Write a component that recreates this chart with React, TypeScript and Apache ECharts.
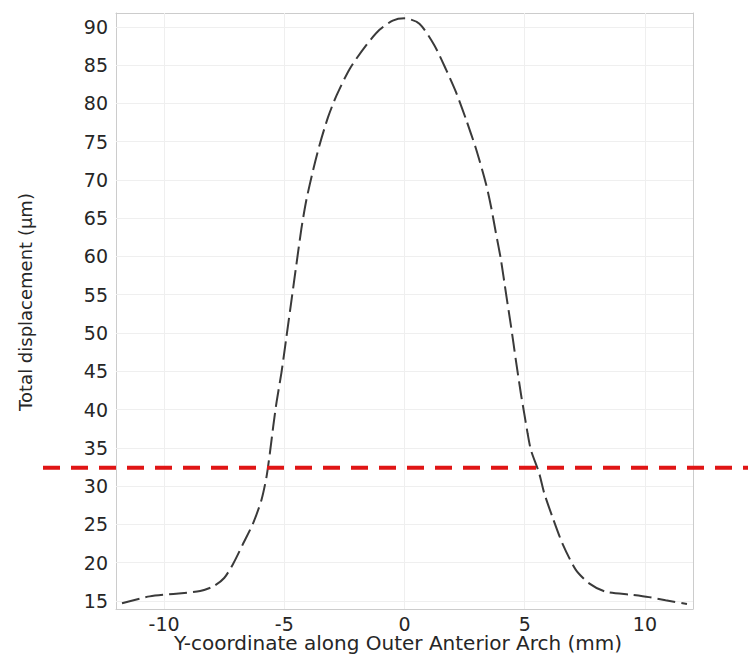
import React, { useEffect, useRef } from "react";
import * as echarts from "echarts";

const xValues = [
  -11.75, -10.6, -9.5, -8.5, -7.95, -7.5, -7.12, -6.71, -6.29, -5.95, -5.74, -5.6, -5.46, -5.32,
  -5.12, -4.91, -4.7, -4.49, -4.29, -4.08, -3.8, -3.53, -3.18, -2.83, -2.28, -1.59, -1.04, -0.49,
  0, 0.62, 1.24, 1.73, 2.15, 2.56, 2.98, 3.38, 3.6, 3.8, 4.01, 4.22, 4.43, 4.63, 4.84, 4.98, 5.12,
  5.26, 5.6, 5.81, 6.15, 6.57, 7.12, 7.68, 8.37, 9.47, 10.17, 10.86, 11.75,
];
const displacement = [
  14.7, 15.6, 15.95, 16.3, 16.9, 18.0, 19.9, 22.5, 25.2, 28.2, 31.2, 34.3, 37.8, 41.0,
  44.8, 49.5, 54.3, 59.1, 63.6, 67.4, 71.3, 74.6, 78.2, 81.0, 84.5, 87.6, 89.6, 90.8,
  91.1, 90.4, 87.6, 84.4, 81.4, 77.9, 74.0, 69.6, 66.5, 63.1, 59.6, 55.2, 50.9, 46.5, 42.1, 39.5, 36.9,
  34.7, 31.7, 29.1, 26.0, 22.5, 19.1, 17.3, 16.2, 15.8, 15.5, 15.1, 14.6,
];
const xTicks = [-10, -5, 0, 5, 10];
const yTicks = [15, 20, 25, 30, 35, 40, 45, 50, 55, 60, 65, 70, 75, 80, 85, 90];
const threshold = 32.4;

const FONT = "DejaVu Sans";
const TEXT = "#262626";
const BORDER = "#cccccc";

export default function App() {
  const ref = useRef<HTMLDivElement>(null);
  useEffect(() => {
    if (!ref.current) return;
    const chart = echarts.init(ref.current, undefined, { renderer: "svg" });
    const data = xValues.map((x, i) => [x, displacement[i]]);
    const tickStyle = { show: true, inside: true, length: 7, lineStyle: { color: "#bbbbbb" } };
    const baseX = {
      type: "value" as const,
      min: -12,
      max: 12,
      axisLine: { show: true, onZero: false, lineStyle: { color: BORDER, width: 1 } },
      splitLine: { show: false },
    };
    const baseY = {
      type: "value" as const,
      min: 13.95,
      max: 91.8,
      axisLine: { show: true, onZero: false, lineStyle: { color: BORDER, width: 1 } },
      splitLine: { show: false },
    };
    chart.setOption({
      animation: false,
      backgroundColor: "#ffffff",
      grid: {
        left: 116,
        right: 55,
        top: 13,
        bottom: 49,
        containLabel: false,
        outerBoundsMode: "none",
      },
      xAxis: [
        {
          ...baseX,
          position: "bottom",
          name: "Y-coordinate along Outer Anterior Arch (mm)",
          nameLocation: "middle",
          nameGap: 24,
          nameMoveOverlap: false,
          nameTextStyle: { fontFamily: FONT, fontSize: 20, color: TEXT, padding: [0, 13, 0, 0] },
          axisTick: { ...tickStyle, customValues: xTicks },
          axisLabel: { customValues: xTicks, fontFamily: FONT, fontSize: 19, color: TEXT, margin: 5 },
        },
        {
          ...baseX,
          position: "top",
          axisTick: { ...tickStyle, customValues: xTicks },
          axisLabel: { show: false },
        },
      ],
      yAxis: [
        {
          ...baseY,
          position: "left",
          name: "Total displacement (μm)",
          nameLocation: "middle",
          nameGap: 82,
          nameMoveOverlap: false,
          nameTextStyle: { fontFamily: FONT, fontSize: 18, color: TEXT, padding: [0, 0, 0, 18] },
          axisTick: { ...tickStyle, customValues: yTicks },
          axisLabel: { customValues: yTicks, fontFamily: FONT, fontSize: 19, color: TEXT, margin: 8 },
        },
        {
          ...baseY,
          position: "right",
          axisTick: { ...tickStyle, customValues: yTicks },
          axisLabel: { show: false },
        },
      ],
      series: [
        {
          type: "line",
          xAxisIndex: 0,
          yAxisIndex: 0,
          data,
          smooth: 0.25,
          showSymbol: false,
          symbol: "none",
          z: 3,
          lineStyle: { color: "#3a3a3a", width: 2, type: [18, 6] },
          markLine: {
            silent: true,
            symbol: "none",
            z: 1,
            label: { show: false },
            lineStyle: { color: "#efefef", type: "solid", width: 1 },
            data: [
              ...xTicks.map((v) => ({ xAxis: v })),
              ...yTicks.map((v) => ({ yAxis: v })),
            ],
          },
        },
      ],
    });
    const yPix = chart.convertToPixel({ yAxisIndex: 0 }, threshold) as number;
    chart.setOption({
      graphic: [
        {
          type: "line",
          z: 100,
          silent: true,
          shape: { x1: 43, y1: yPix, x2: 748, y2: yPix },
          style: { stroke: "#e01515", lineWidth: 4, lineDash: [17, 11] },
        },
      ],
    });
    return () => chart.dispose();
  }, []);
  return (
    <div
      ref={ref}
      style={{ position: "fixed", left: 0, top: 0, width: 748, height: 658, background: "#fff" }}
    />
  );
}
